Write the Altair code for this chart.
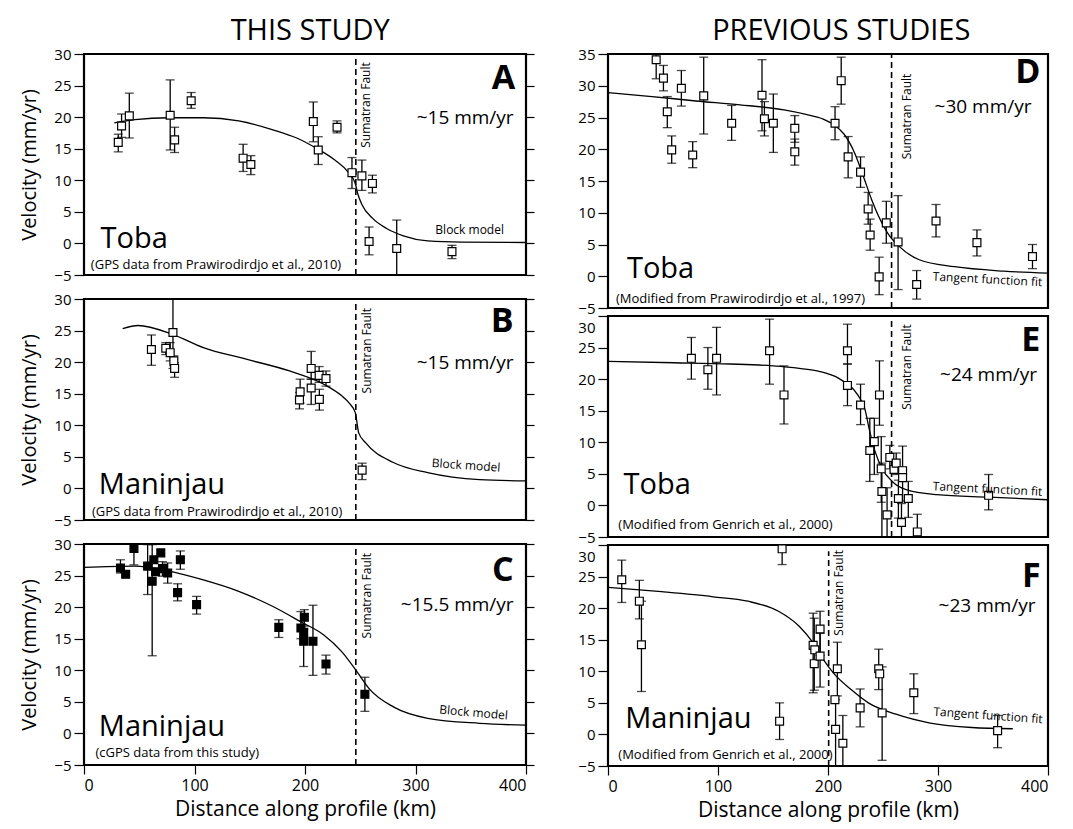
import altair as alt
import pandas as pd
import numpy as np

FONT = "Open Sans"
NAN = np.nan

# ---------------- Panel A (Toba, this study) ----------------
A_km = [31, 34, 41, 78, 82, 97, 144, 151, 207.5, 212, 229, 242.5, 251.5, 261, 258, 283, 333]
A_v = [16.0, 18.6, 20.2, 20.3, 16.4, 22.6, 13.5, 12.5, 19.3, 14.8, 18.4, 11.2, 10.7, 9.5, 0.3, -0.8, -1.3]
A_lo = [14.5, 16.8, 16.7, 14.8, 14.4, 21.4, 11.4, 10.9, 16.1, 12.5, 17.5, 8.7, 8.4, 8.0, -1.8, -5.5, -2.4]
A_hi = [17.3, 20.5, 23.8, 25.9, 18.4, 23.9, 15.7, 13.9, 22.4, 16.9, 19.4, 13.6, 13.2, 10.8, 2.6, 3.7, -0.3]
A_fit_km = [27.4, 46, 77, 108, 140, 171, 192.5, 211, 227, 239, 245.5, 247.7, 251.7, 261, 273.5, 289, 311, 342, 400]
A_fit_v = [19.1, 19.6, 19.9, 19.9, 19.4, 18.0, 16.7, 15.0, 13.2, 11.3, 9.5, 7.9, 6.1, 4.0, 2.4, 1.2, 0.4, 0.2, 0.15]

# ---------------- Panel B (Maninjau, this study) ----------------
B_km = [61, 74, 78, 80.5, 81.3, 82, 195.6, 195, 205.6, 205.6, 212.8, 213, 219, 251.7]
B_v = [22.0, 22.2, 21.5, 24.7, 20.2, 19.0, 15.3, 14.0, 19.0, 15.9, 17.9, 14.1, 17.4, 2.9]
B_lo = [19.5, 21.2, 20.2, 19.0, 19.4, 17.6, 13.5, 12.6, 17.3, 13.3, 16.8, 12.4, 16.2, 1.4]
B_hi = [24.3, 23.1, 23.1, 30.5, 21.0, 19.9, 17.3, 15.2, 21.7, 17.3, 19.3, 15.7, 18.6, 4.0]
B_fit_km = [35, 49, 80, 108, 146, 186, 217, 233, 240, 245.5, 248.6, 255, 280, 311, 358, 400]
B_fit_v = [25.3, 25.8, 24.4, 22.3, 20.5, 18.6, 16.5, 14.7, 13.5, 12.0, 8.8, 7.2, 4.1, 2.5, 1.4, 1.2]

# ---------------- Panel C (Maninjau cGPS) ----------------
C_km = [33, 37.7, 45.2, 57.6, 61.7, 63.2, 64.8, 69.5, 71, 75.7, 84.7, 87.2, 101.9, 176.3, 196.3, 199.4, 198.8, 198.8, 207.2, 219, 254.2]
C_v = [26.2, 25.2, 29.3, 26.5, 24.1, 27.5, 25.6, 28.6, 26.1, 25.4, 22.3, 27.5, 20.4, 16.8, 16.7, 18.4, 16.0, 14.6, 14.6, 11.0, 6.2]
C_lo = [25.4, NAN, 26.7, 22.0, 12.3, NAN, NAN, NAN, 24.9, 23.8, 21.0, 26.0, 18.9, 15.2, 15.0, 17.0, NAN, 10.6, 9.2, 9.4, 3.5]
C_hi = [27.5, NAN, 30.5, 29.9, 29.9, NAN, NAN, NAN, 27.2, 27.0, 23.7, 28.9, 21.7, 18.0, 19.3, 19.6, NAN, 16.5, 20.3, 12.4, 8.9]
C_fit_km = [0, 46, 77, 108, 140, 171, 196, 217, 233, 247, 258, 280, 311, 358, 400]
C_fit_v = [26.3, 26.5, 25.7, 24.3, 22.5, 20.1, 17.7, 15.6, 13.0, 9.8, 7.1, 4.2, 2.4, 1.6, 1.3]

# ---------------- Panel D (Toba, Prawirodirdjo 1997) ----------------
D_km = [43.8, 50.4, 53.9, 57.9, 66.7, 77, 87, 112.4, 140, 142.2, 150.3, 169.8, 169.8, 206.4, 212, 218.3, 229.6, 236.5, 238.3, 246.5, 253, 263.7, 280.6, 298.2, 335.4, 385.9]
D_v = [34.1, 31.2, 25.9, 19.9, 29.6, 19.1, 28.4, 24.1, 28.5, 24.8, 24.1, 23.3, 19.6, 24.1, 30.8, 18.8, 16.4, 10.6, 6.5, -0.1, 8.4, 5.4, -1.3, 8.7, 5.3, 3.1]
D_lo = [31.1, 29.2, 23.4, 17.8, 26.8, 17.1, 22.4, 21.4, 22.9, 22.1, 19.5, 21.1, 17.5, 21.5, 27.1, 15.5, 14.0, 8.2, 4.1, -2.9, 5.2, -2.1, -3.6, 6.2, 3.2, 1.2]
D_hi = [35.4, 33.2, 28.3, 22.1, 32.4, 21.2, 34.5, 26.9, 34.1, 27.5, 28.7, 25.3, 21.6, 26.7, 34.5, 22.0, 18.8, 13.2, 9.0, 3.0, 11.8, 12.7, 0.9, 11.3, 7.3, 5.0]
D_fit_km = [0, 40, 80, 120, 160, 180, 195, 205, 214.5, 224, 233, 239.6, 245.9, 255, 264.7, 283, 315, 360, 400]
D_fit_v = [28.9, 28.3, 27.6, 27.0, 26.2, 25.5, 24.8, 23.9, 22.4, 19.5, 15.3, 12.1, 9.5, 6.6, 4.7, 2.6, 1.5, 0.8, 0.5]

# ---------------- Panel E (Toba, Genrich 2000) ----------------
E_km = [75.8, 90.8, 98.7, 146.9, 160, 217.7, 217.7, 229.6, 238, 242.1, 246.8, 248.4, 249, 253.7, 256.2, 260, 262, 264, 266.8, 267.8, 267.8, 273, 281.2, 346]
E_v = [23.3, 21.5, 23.3, 24.5, 17.5, 24.5, 19.0, 15.9, 8.7, 10.1, 17.5, 5.8, 2.2, -1.5, 7.6, 5.7, 6.7, 1.1, -2.7, 5.5, 4.4, 1.1, -4.2, 1.6]
E_lo = [20.0, 18.4, 17.5, 19.2, 12.9, 22.4, 15.8, 12.8, 3.8, 4.9, 12.7, 0.5, -5.5, -5.5, 5.8, NAN, 4.9, -2.0, -5.5, 0.7, NAN, -1.9, -5.6, -0.7]
E_hi = [26.6, 25.0, 28.2, 29.5, 22.1, 28.7, 22.4, 19.2, 13.8, 13.8, 22.9, 10.9, 6.7, 2.8, 9.5, NAN, 8.3, 4.0, 0.3, 9.4, NAN, 3.8, -1.4, 4.9]
E_fit_km = [0, 60, 111, 150, 174, 190, 199, 207, 214.5, 221, 227, 233.3, 238, 242.7, 249, 258.4, 271, 299, 346, 400]
E_fit_v = [22.8, 22.6, 22.4, 22.1, 21.7, 21.3, 20.9, 20.4, 19.6, 18.8, 17.5, 15.4, 11.7, 8.6, 5.9, 3.8, 2.5, 1.7, 1.3, 0.9]

# ---------------- Panel F (Maninjau, Genrich 2000) ----------------
F_km = [12.5, 28.5, 30.4, 158.3, 156, 186.5, 187.5, 188, 192.8, 192.8, 206.3, 206.9, 208.5, 213.5, 229.2, 246.1, 247, 249.2, 278, 354.2]
F_v = [24.5, 21.1, 14.2, 29.4, 2.1, 14.1, 11.2, 13.4, 16.7, 12.4, 5.5, 0.8, 10.4, -1.4, 4.2, 10.4, 9.6, 3.4, 6.6, 0.6]
F_lo = [20.9, 18.3, 6.8, 26.9, -0.8, 6.6, 7.0, NAN, 12.5, 7.5, NAN, -5.5, 6.1, -5.7, 1.2, 7.1, NAN, -4.1, 3.3, -2.1]
F_hi = [27.6, 24.4, 21.1, 32.0, 5.0, 19.2, 18.4, NAN, 19.5, 16.0, NAN, 5.5, 14.6, 3.0, 7.2, 13.5, NAN, 10.7, 9.6, 3.0]
F_fit_km = [0, 48.6, 95.6, 127, 155, 174, 186.5, 196, 205, 221, 236.7, 261.8, 293, 330.7, 368]
F_fit_v = [23.3, 22.6, 21.8, 21.1, 19.5, 17.1, 14.5, 11.8, 9.7, 7.1, 5.0, 3.2, 1.8, 1.1, 0.9]

X_TICKS = [0, 100, 200, 300, 400]
X_TITLE = "Distance along profile (km)"
Y_TITLE = "Velocity (mm/yr)"

LW, RW = 442, 440
H35, H40 = 221, 254


def make_panel(km, v, lo, hi, fit_km, fit_v, ydom, width, height, filled,
               xaxis, ytitle, right_ticks, shift30, fault_km, fault_top, ann):
    xs = alt.Scale(domain=[0, 400], nice=False, zero=False)
    ys = alt.Scale(domain=ydom, nice=False, zero=False)
    yvals = list(range(-5, ydom[1] + 1, 5))

    def X(f, axis=None):
        return alt.X(f, type="quantitative", scale=xs, axis=axis)

    def Y(f, axis=None):
        return alt.Y(f, type="quantitative", scale=ys, axis=axis)

    pts = pd.DataFrame({"km": km, "v": v, "lo": lo, "hi": hi})
    err = pts.dropna(subset=["lo", "hi"])
    caps = pd.concat([
        err[["km", "lo"]].rename(columns={"lo": "c"}),
        err[["km", "hi"]].rename(columns={"hi": "c"}),
    ])
    fit = pd.DataFrame({"km": fit_km, "v": fit_v})

    if xaxis:
        xax = alt.Axis(values=X_TICKS, title=X_TITLE, format="d", labelFontSize=16,
                       titleFontSize=21, titlePadding=5, tickSize=9, labelPadding=3)
    else:
        xax = None
    ykw = dict(values=yvals, format="d", tickSize=10, labelPadding=3)
    if ytitle:
        ykw.update(title=ytitle, titlePadding=14)
    else:
        ykw.update(title=None)
    if shift30:
        ykw.update(labelOffset={"condition": {"test": "datum.value == 30", "value": 11}, "value": 0})
    yax = alt.Axis(**ykw)

    layers = []
    layers.append(alt.Chart(fit).mark_line(color="black", strokeWidth=1.3,
                                           interpolate="monotone", clip=True)
                  .encode(x=X("km", xax), y=Y("v", yax)))
    fdf = pd.DataFrame({"x": [fault_km], "y": [ydom[0]], "y2": [fault_top]})
    layers.append(alt.Chart(fdf).mark_rule(color="black", strokeDash=[6, 4], strokeWidth=1.6, clip=True)
                  .encode(x=X("x"), y=Y("y"), y2="y2"))
    layers.append(alt.Chart(err).mark_rule(color="black", strokeWidth=1.3, clip=True)
                  .encode(x=X("km"), y=Y("lo"), y2="hi"))
    layers.append(alt.Chart(caps).mark_tick(color="black", orient="horizontal", size=9,
                                            thickness=1.3, clip=True)
                  .encode(x=X("km"), y=Y("c")))
    layers.append(alt.Chart(pts).mark_point(shape="square", size=62, filled=True,
                                            fill="black" if filled else "white",
                                            stroke="black", strokeWidth=1.2, opacity=1, clip=True)
                  .encode(x=X("km"), y=Y("v")))

    def txt(x, y, s, **kw):
        d = pd.DataFrame({"x": [x], "y": [y], "t": [s]})
        return alt.Chart(d).mark_text(font=FONT, color="black", **kw).encode(
            x=X("x"), y=Y("y"), text="t")

    L = ann
    layers.append(txt(L["letter"][1], L["letter"][2], L["letter"][0], fontSize=34,
                      fontWeight="bold", align="right", baseline="alphabetic"))
    layers.append(txt(L["rate"][1], L["rate"][2], L["rate"][0], fontSize=19,
                      align="right", baseline="middle"))
    layers.append(txt(L["station"][1], L["station"][2], L["station"][0], fontSize=29,
                      align="left", baseline="alphabetic"))
    layers.append(txt(L["source"][1], L["source"][2], L["source"][0], fontSize=13,
                      align="left", baseline="alphabetic"))
    layers.append(txt(L["fault"][0], L["fault"][1], "Sumatran Fault", fontSize=12,
                      angle=270, align="right", baseline="middle"))
    layers.append(txt(L["model"][1], L["model"][2], L["model"][0], fontSize=12,
                      angle=L["model"][3], align="center", baseline="middle"))
    if right_ticks:
        layers.append(alt.Chart(fit).mark_point(opacity=0)
                      .encode(y=Y("v", alt.Axis(orient="right", values=yvals, labels=False,
                                                title=None, tickSize=8))))

    return (alt.layer(*layers)
            .resolve_scale(x="independent", y="independent")
            .properties(width=width, height=height))


pA = make_panel(A_km, A_v, A_lo, A_hi, A_fit_km, A_fit_v, [-5, 30], LW, H35, False,
                False, Y_TITLE, True, False, 246, 30,
                dict(letter=("A", 390.3, 24.5), rate=("~15 mm/yr", 388.8, 19.8),
                     station=("Toba", 15, -0.8),
                     source=("(GPS data from Prawirodirdjo et al., 2010)", 6.2, -4.0),
                     fault=(255.6, 28.7), model=("Block model", 349, 2.1, 0)))
pB = make_panel(B_km, B_v, B_lo, B_hi, B_fit_km, B_fit_v, [-5, 30], LW, H35, False,
                False, Y_TITLE, True, False, 246, 30,
                dict(letter=("B", 388.8, 24.7), rate=("~15 mm/yr", 388.8, 19.8),
                     station=("Maninjau", 13.4, -0.95),
                     source=("(GPS data from Prawirodirdjo et al., 2010)", 7.2, -4.3),
                     fault=(256, 28.6), model=("Block model", 345.8, 3.65, 4)))
pC = make_panel(C_km, C_v, C_lo, C_hi, C_fit_km, C_fit_v, [-5, 30], LW, H35, True,
                True, Y_TITLE, True, False, 246, 30,
                dict(letter=("C", 388.8, 24.1), rate=("~15.5 mm/yr", 388.8, 20.3),
                     station=("Maninjau", 13.4, -0.4),
                     source=("(cGPS data from this study)", 10.3, -3.7),
                     fault=(256, 28.6), model=("Block model", 352.6, 3.3, 5)))
pD = make_panel(D_km, D_v, D_lo, D_hi, D_fit_km, D_fit_v, [-5, 35], RW, H40, False,
                False, None, False, False, 257.8, 35,
                dict(letter=("D", 393, 30.4), rate=("~30 mm/yr", 385, 26.6),
                     station=("Toba", 17.2, -0.3),
                     source=("(Modified from Prawirodirdjo et al., 1997)", 7.2, -4.2),
                     fault=(271.5, 31.9), model=("Tangent function fit", 345, -0.5, 3)))
pE = make_panel(E_km, E_v, E_lo, E_hi, E_fit_km, E_fit_v, [-5, 30], RW, H35, False,
                False, None, False, True, 257.8, 30,
                dict(letter=("E", 393, 24.5), rate=("~24 mm/yr", 390, 20.6),
                     station=("Toba", 14.1, 1.8),
                     source=("(Modified from Genrich et al., 2000)", 9.4, -3.8),
                     fault=(271.5, 28.7), model=("Tangent function fit", 345, 2.6, 3)))
pF = make_panel(F_km, F_v, F_lo, F_hi, F_fit_km, F_fit_v, [-5, 30], RW, H35, False,
                True, None, False, True, 200.6, 29,
                dict(letter=("F", 393.4, 23.4), rate=("~23 mm/yr", 388.7, 20.3),
                     station=("Maninjau", 15.7, 1.05),
                     source=("(Modified from Genrich et al., 2000)", 9.4, -3.9),
                     fault=(210, 29.2), model=("Tangent function fit", 345.5, 3.0, 4)))

col_title = dict(fontSize=29, font=FONT, fontWeight="normal", anchor="middle",
                 offset=0, color="black")

left = alt.vconcat(pA, pB, pC, spacing=24, bounds="flush",
                   title=alt.TitleParams("THIS STUDY", dx=33, **col_title))
right = alt.vconcat(pD, pE, pF, spacing=8, bounds="flush",
                    title=alt.TitleParams("PREVIOUS STUDIES", dx=28, **col_title))

chart = (alt.hconcat(left, right, spacing=40)
         .properties(padding={"left": 10, "top": 8, "right": 0, "bottom": 0})
         .configure_view(stroke="black", strokeWidth=2.2)
         .configure_axis(labelFont=FONT, labelFontSize=15, labelColor="black",
                         titleFont=FONT, titleFontSize=20, titleFontWeight="normal",
                         titleColor="black", tickColor="black", tickWidth=1.2,
                         domain=False, grid=False))

chart.save("out.html", embed_options={"renderer": "svg", "actions": False})
